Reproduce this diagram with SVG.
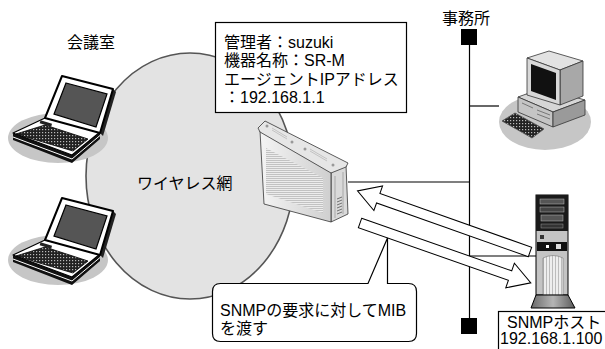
<svg xmlns="http://www.w3.org/2000/svg" width="605" height="349" viewBox="0 0 605 349">
  <defs>
    <style>
      text { font-family: "Liberation Sans", "Noto Sans CJK JP", sans-serif; font-size: 16px; fill: #000; }
      .ln { stroke: #000; stroke-width: 1.2; fill: none; }
      .box { fill: #fff; stroke: #000; stroke-width: 1.2; }
      .arrow { fill: #fff; stroke: #000; stroke-width: 1; stroke-linejoin: miter; }
      .shadow { fill: #c6c6c6; }
      .edge { stroke: #333; stroke-width: 0.8; stroke-linejoin: round; }
    </style>
    <pattern id="keys" width="3" height="3" patternUnits="userSpaceOnUse">
      <rect width="3" height="3" fill="#222"/>
      <rect width="1.2" height="1.2" fill="#bbb"/>
    </pattern>
    <pattern id="grille" width="4" height="2" patternUnits="userSpaceOnUse">
      <rect width="4" height="2" fill="#ececec"/>
      <rect width="4" height="0.8" fill="#b8b8b8"/>
    </pattern>
    <pattern id="vstripes" width="3" height="4" patternUnits="userSpaceOnUse">
      <rect width="3" height="4" fill="#eeeeee"/>
      <rect width="0.8" height="4" fill="#b0b0b0"/>
    </pattern>
    <linearGradient id="routerFront" x1="0" y1="0" x2="1" y2="0">
      <stop offset="0" stop-color="#f4f4f4"/>
      <stop offset="1" stop-color="#cfcfcf"/>
    </linearGradient>
    <linearGradient id="plinth" x1="0" y1="0" x2="1" y2="0">
      <stop offset="0" stop-color="#6a6a6a"/>
      <stop offset="0.5" stop-color="#b5b5b5"/>
      <stop offset="1" stop-color="#5a5a5a"/>
    </linearGradient>

    <!-- notebook PC artwork, drawn at the upper seat -->
    <g id="laptopArt">
      <ellipse class="shadow" cx="58" cy="138" rx="50" ry="25"/>
      <polygon points="13,133 72,155 100,132 100,139 72,163 13,140" fill="#111"/>
      <polyline points="13,137 72,159 100,135.5" fill="none" stroke="#fff" stroke-width="1"/>
      <polygon points="13,133 45,118 100,132 72,155" fill="#fff" stroke="#000" stroke-width="1.2" stroke-linejoin="round"/>
      <polygon points="16,134 45,125 88,139 73,151" fill="url(#keys)" stroke="#000" stroke-width="0.8"/>
      <rect x="40" y="122" width="12" height="3" fill="#222" transform="rotate(17 46 123)"/>
      <polygon points="113,89 116,92 103,136 100,133" fill="#222"/>
      <polygon points="62,76 113,89 100,133 45,118" fill="#fff" stroke="#000" stroke-width="2" stroke-linejoin="round"/>
      <polygon points="66,83 107,94 96,127 54,114" fill="#555" stroke="#000" stroke-width="1.2"/>
    </g>
  </defs>

  <!-- wireless LAN area -->
  <g id="wireless-area">
    <ellipse cx="190" cy="176" rx="104" ry="123" fill="#e3e3e3" stroke="#555" stroke-width="1.6"/>
    <text x="137" y="189">ワイヤレス網</text>
  </g>

  <!-- meeting room -->
  <g id="meeting-room-label">
    <text x="67" y="48">会議室</text>
  </g>
  <g id="laptop-1">
    <use href="#laptopArt"/>
  </g>
  <g id="laptop-2">
    <use href="#laptopArt" transform="translate(0,122)"/>
  </g>

  <!-- SR-M access point -->
  <g id="router">
    <polygon points="331,172 346,165 348,214 331,222" fill="#d9d9d9" class="edge"/>
    <g stroke="#888" stroke-width="0.6">
      <line x1="335" y1="176" x2="335" y2="218"/>
      <line x1="343" y1="172" x2="343" y2="214"/>
    </g>
    <g stroke="#555" stroke-width="0.8">
      <line x1="337" y1="199" x2="342" y2="197"/>
      <line x1="337" y1="202" x2="342" y2="200"/>
      <line x1="337" y1="205" x2="342" y2="203"/>
      <line x1="337" y1="208" x2="342" y2="206"/>
      <line x1="337" y1="211" x2="342" y2="209"/>
      <line x1="337" y1="214" x2="342" y2="212"/>
    </g>
    <polygon points="260,131 331,172 331,222 264,204" fill="url(#routerFront)" class="edge"/>
    <polygon points="266,148 323,178 323,213 266,194" fill="url(#grille)"/>
    <polygon points="258,128 265,121 348,163 346,167 331,173 260,132" fill="#e6e6e6" class="edge"/>
    <g fill="#999">
      <circle cx="267" cy="126" r="1.5"/>
      <circle cx="292" cy="142" r="1.5"/>
      <circle cx="305" cy="149" r="1.5"/>
      <circle cx="333" cy="165" r="1.5"/>
    </g>
    <g stroke="#aaa" stroke-width="0.6">
      <line x1="272" y1="128" x2="287" y2="137"/>
      <line x1="272" y1="130" x2="287" y2="139"/>
      <line x1="310" y1="149" x2="327" y2="159"/>
      <line x1="310" y1="151" x2="327" y2="161"/>
    </g>
  </g>

  <!-- agent information -->
  <g id="agent-info">
    <rect class="box" x="215.5" y="22.5" width="191" height="90"/>
    <text x="224" y="47.5">管理者：suzuki</text>
    <text x="224" y="66">機器名称：SR-M</text>
    <text x="224" y="84.5">エージェントIPアドレス</text>
    <text x="224" y="103">：192.168.1.1</text>
  </g>

  <!-- office LAN -->
  <g id="office-label">
    <text x="442" y="24">事務所</text>
  </g>

  <g id="connectors">
    <line class="ln" x1="469.5" y1="44" x2="469.5" y2="319"/>
    <line class="ln" x1="469.5" y1="106" x2="499" y2="106"/>
    <line class="ln" x1="348" y1="182" x2="469.5" y2="182"/>
    <rect x="461" y="29" width="16" height="16" fill="#000"/>
    <rect x="461" y="318" width="16" height="16" fill="#000"/>
  </g>

  <!-- office PC -->
  <g id="pc">
    <ellipse class="shadow" cx="545" cy="122" rx="46" ry="28"/>
    <polygon points="518,97 543,88 585,100 553,112" fill="#d6d6d6" class="edge"/>
    <polygon points="518,97 553,112 553,127 518,112" fill="#c4c4c4" class="edge"/>
    <polygon points="553,112 585,100 585,115 553,127" fill="#9a9a9a" class="edge"/>
    <g stroke="#555" stroke-width="0.7">
      <line x1="522" y1="103" x2="533" y2="108"/>
      <line x1="537" y1="110" x2="550" y2="115"/>
      <line x1="537" y1="114" x2="550" y2="119"/>
    </g>
    <polygon points="527,58 549,51 583,61 560,70" fill="#e2e2e2" class="edge"/>
    <polygon points="560,70 583,61 583,96 560,105" fill="#a8a8a8" class="edge"/>
    <polygon points="527,58 560,70 560,105 527,95" fill="#d8d8d8" class="edge"/>
    <polygon points="531,64 556,73 556,100 531,91" fill="#111"/>
    <polygon points="502,121 515,113 544,129 532,138" fill="url(#keys)" stroke="#555" stroke-width="0.8"/>
  </g>

  <!-- SNMP manager -->
  <g id="snmp-host">
    <line class="ln" x1="469.5" y1="256" x2="536" y2="256"/>
    <rect x="536" y="195" width="32" height="100" fill="#c4c4c4" stroke="#000"/>
    <rect x="536" y="195" width="32" height="36" fill="#1a1a1a"/>
    <rect x="540" y="199" width="24" height="5" fill="#555" stroke="#bbb" stroke-width="0.5"/>
    <rect x="540" y="207" width="24" height="5" fill="#444" stroke="#bbb" stroke-width="0.5"/>
    <rect x="541" y="215" width="22" height="6" fill="#555" stroke="#bbb" stroke-width="0.5"/>
    <rect x="541" y="224" width="22" height="4" fill="#333" stroke="#999" stroke-width="0.5"/>
    <rect x="540" y="235" width="4" height="4" fill="#333"/>
    <rect x="537" y="242" width="30" height="9" fill="#111"/>
    <rect x="546" y="245" width="3" height="3" fill="#fff"/>
    <rect x="556" y="244" width="5" height="5" fill="#ddd"/>
    <path d="M543,295 V258 Q553,253 563,258 V295 Z" fill="url(#vstripes)" stroke="#777" stroke-width="0.6"/>
    <polygon points="536,295 568,295 575,308 531,308" fill="url(#plinth)" stroke="#000"/>
  </g>

  <!-- SNMP request / MIB response -->
  <g id="arrows">
    <polygon class="arrow" transform="translate(530,252) rotate(199.5)" points="0,-5 161,-5 161,-13 183,0 161,13 161,5 0,5"/>
    <polygon class="arrow" transform="translate(360,223) rotate(19.3)" points="0,-5 159,-5 159,-13 181,0 159,13 159,5 0,5"/>
  </g>

  <g id="callout">
    <path class="box" d="M220.5,283.5 H368 L387.5,238 V283.5 H408.5 Q416.5,283.5 416.5,291.5 V333.5 Q416.5,341.5 408.5,341.5 H220.5 Q212.5,341.5 212.5,333.5 V291.5 Q212.5,283.5 220.5,283.5 Z"/>
    <text x="220" y="316">SNMPの要求に対してMIB</text>
    <text x="220" y="334">を渡す</text>
  </g>

  <g id="host-label">
    <rect class="box" x="498.5" y="311.5" width="120" height="50"/>
    <text x="507" y="328">SNMPホスト</text>
    <text x="500" y="343.5">192.168.1.100</text>
  </g>
</svg>
